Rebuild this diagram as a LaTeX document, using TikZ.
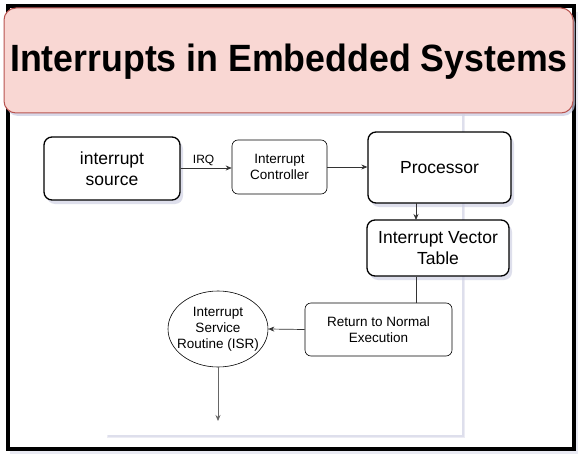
\documentclass[tikz,border=0pt]{standalone}
\usepackage{fontspec}
\setmainfont{Liberation Sans}
\usetikzlibrary{shapes.geometric,arrows.meta,shadows}
\definecolor{titlefill}{HTML}{F9D7D3}
\definecolor{titledraw}{HTML}{B85450}
\definecolor{shadowc}{HTML}{C8CAE0}
\begin{document}
\begin{tikzpicture}[x=1pt,y=-1pt,
  thickbox/.style={draw=black,line width=1.3pt,rounded corners=8pt,fill=white,align=center,
    font=\fontsize{17.5}{21}\selectfont,inner sep=0pt,
    drop shadow={shadow xshift=3pt,shadow yshift=-4pt,fill=shadowc,opacity=0.6}},
  thinbox/.style={draw=black,line width=0.6pt,rounded corners=6pt,fill=white,align=center,
    font=\fontsize{13.5}{16}\selectfont,inner sep=0pt},
  conn/.style={draw=black!80,line width=0.7pt},
  arr/.style={conn,-{Stealth[length=6pt,width=5pt]}}]
\useasboundingbox (0,0) rectangle (580,457);
\fill[white] (0,0) rectangle (580,457);
% outer frame
\fill[shadowc!40] (10,12) rectangle (578,454);
\draw[line width=3.5pt,fill=white] (8,6) rectangle (574,449);
% page
\fill[shadowc!35] (107,114) rectangle (465,438);
\fill[shadowc!60] (108,116) rectangle (464,437);
\fill[white] (105,112) rectangle (462,435);
% title
\node[draw=titledraw,line width=1pt,fill=titlefill,rounded corners=12pt,
  minimum width=569pt,minimum height=105pt,inner sep=0pt,
  drop shadow={shadow xshift=2pt,shadow yshift=-3pt,fill=shadowc,opacity=0.7}]
  (title) at (288.5,60.5) {};
\node[font=\bfseries\fontsize{38}{40}\selectfont,xscale=0.94,inner sep=0pt] (titletext) at (289,62) {Interrupts in Embedded Systems};
% nodes
\node[thickbox,minimum width=136pt,minimum height=63pt] (src) at (112,168.5) {interrupt\\source};
\node[thinbox,minimum width=95pt,minimum height=54pt] (ctrl) at (279.5,167) {Interrupt\\Controller};
\node[thickbox,minimum width=143pt,minimum height=71pt] (proc) at (439.5,167.5) {Processor};
\node[thickbox,minimum width=142pt,minimum height=56pt] (ivt) at (438,248) {Interrupt Vector\\Table};
\node[thinbox,minimum width=147pt,minimum height=53pt] (ret) at (378.5,329.5) {Return to Normal\\Execution};
\node[ellipse,draw=black,line width=0.6pt,fill=white,minimum width=100pt,minimum height=76pt,
  inner xsep=-12pt,inner ysep=-6pt,align=center,font=\fontsize{13.5}{16}\selectfont] (isr) at (218,329) {Interrupt\\Service\\Routine (ISR)};
\coordinate (endpt) at (218,421);
% connectors
\draw[arr] (src.east |- 0,168) -- node[above=-1pt,font=\fontsize{12}{14}\selectfont,pos=0.45] (irq) {IRQ} (ctrl.west |- 0,168);
\draw[arr] (ctrl.east |- 0,167) -- (proc.west |- 0,167);
\draw[arr] (416,203) -- (416,220);
\draw[conn] (ivt.south -| 416,0) -- (416,303);
\draw[arr] (ret.west) -- (isr.east);
\draw[arr,draw=black!60] (isr.south) -- (endpt);
\end{tikzpicture}
\end{document}
